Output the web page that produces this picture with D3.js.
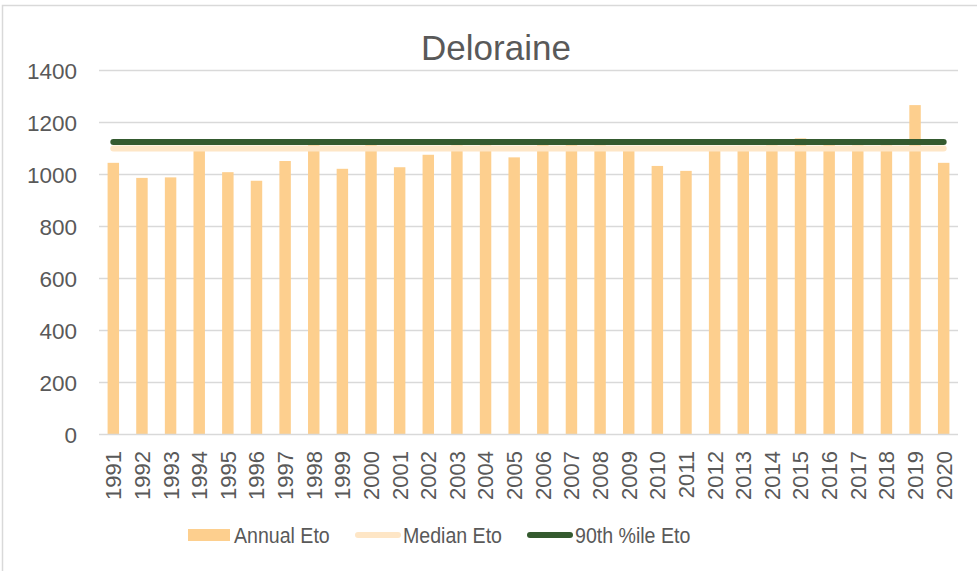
<!DOCTYPE html>
<html>
<head>
<meta charset="utf-8">
<script src="https://cdn.jsdelivr.net/npm/d3@7"></script>
<style>
  html, body { margin: 0; padding: 0; background: #fff; }
  svg { display: block; }
  text { font-family: "Liberation Sans", Arial, sans-serif; fill: #595959; }
</style>
</head>
<body>
<svg id="chart" width="977" height="571"></svg>
<script>
const title = "Deloraine";
const years = ["1991","1992","1993","1994","1995","1996","1997","1998","1999","2000",
               "2001","2002","2003","2004","2005","2006","2007","2008","2009","2010",
               "2011","2012","2013","2014","2015","2016","2017","2018","2019","2020"];
const annualEto = [1043, 985, 987, 1093, 1007, 974, 1050, 1112, 1020, 1112,
                   1026, 1074, 1110, 1110, 1064, 1112, 1112, 1110, 1096, 1031,
                   1012, 1097, 1108, 1110, 1137, 1112, 1110, 1110, 1265, 1043];
const medianEto = 1098;
const p90Eto = 1123;
const yTicks = [0, 200, 400, 600, 800, 1000, 1200, 1400];
const legendLabels = ["Annual Eto", "Median Eto", "90th %ile Eto"];

const colBar = "#fdcf8e", colMedian = "#fee6c6", colP90 = "#345a2f", colGrid = "#d9d9d9";

const svg = d3.select("#chart");
const plotLeft = 99, plotRight = 958, plotTop = 70, plotBottom = 434;

// outer border
svg.append("rect").attr("x", 2.5).attr("y", 5.5).attr("width", 1000).attr("height", 600)
  .attr("fill", "none").attr("stroke", colGrid).attr("stroke-width", 1.5);

const x = d3.scaleBand().domain(years).range([plotLeft, plotRight]).paddingInner(0.6).paddingOuter(0.3);
const y = d3.scaleLinear().domain([0, 1400]).range([plotBottom, plotTop]);

// gridlines
svg.append("g").selectAll("line").data(yTicks.filter(d => d > 0)).join("line")
  .attr("x1", plotLeft).attr("x2", plotRight)
  .attr("y1", d => y(d) + 0.5).attr("y2", d => y(d) + 0.5)
  .attr("stroke", colGrid).attr("stroke-width", 1.3);

// y axis labels
const yAxis = d3.axisLeft(y).tickValues(yTicks).tickFormat(d3.format("d")).tickSize(0).tickPadding(0);
const yg = svg.append("g").attr("transform", `translate(${plotLeft - 22},0)`).call(yAxis);
yg.select(".domain").remove();
yg.selectAll("text").attr("font-size", 22.5).attr("fill", "#595959")
  .attr("font-family", '"Liberation Sans", Arial, sans-serif').attr("dy", "0.36em");

// bars
svg.append("g").selectAll("rect").data(years).join("rect")
  .attr("x", d => x(d)).attr("width", x.bandwidth())
  .attr("y", (d, i) => y(annualEto[i])).attr("height", (d, i) => y(0) - y(annualEto[i]))
  .attr("fill", colBar);

// x axis line
svg.append("line").attr("x1", plotLeft).attr("x2", plotRight)
  .attr("y1", plotBottom + 0.5).attr("y2", plotBottom + 0.5)
  .attr("stroke", colGrid).attr("stroke-width", 1.3);

// x axis labels
const xc = d => x(d) + x.bandwidth() / 2;
const xAxis = d3.axisBottom(x).tickSize(0).tickPadding(0);
const xg = svg.append("g").attr("transform", `translate(0,${plotBottom})`).call(xAxis);
xg.select(".domain").remove();
xg.selectAll("text")
  .attr("font-size", 22).attr("fill", "#595959")
  .attr("font-family", '"Liberation Sans", Arial, sans-serif')
  .attr("text-anchor", "end")
  .attr("transform", "translate(0,17) rotate(-90)")
  .attr("x", 0).attr("y", 0).attr("dy", "0.36em");

// lines
const endpoints = [years[0], years[years.length - 1]];
const line = v => d3.line().x(d => xc(d)).y(() => y(v))(endpoints);
svg.append("path").attr("d", line(medianEto)).attr("stroke", colMedian)
  .attr("stroke-width", 6).attr("stroke-linecap", "round").attr("fill", "none");
svg.append("path").attr("d", line(p90Eto)).attr("stroke", colP90)
  .attr("stroke-width", 6).attr("stroke-linecap", "round").attr("fill", "none");

// title
svg.append("text").attr("x", 496).attr("y", 60).attr("text-anchor", "middle")
  .attr("font-size", 35).text(title);

// legend
const ly = 535;
const legText = (xPos, s) => svg.append("text")
  .attr("transform", `translate(${xPos},${ly + 8}) scale(0.87,1)`)
  .attr("font-size", 22.5).text(s);
svg.append("rect").attr("x", 188).attr("y", ly - 6).attr("width", 42).attr("height", 12).attr("fill", colBar);
legText(234, legendLabels[0]);
svg.append("line").attr("x1", 358).attr("x2", 398).attr("y1", ly).attr("y2", ly)
  .attr("stroke", colMedian).attr("stroke-width", 6).attr("stroke-linecap", "round");
legText(403, legendLabels[1]);
svg.append("line").attr("x1", 530).attr("x2", 570).attr("y1", ly).attr("y2", ly)
  .attr("stroke", colP90).attr("stroke-width", 6).attr("stroke-linecap", "round");
legText(575, legendLabels[2]);
</script>
</body>
</html>
